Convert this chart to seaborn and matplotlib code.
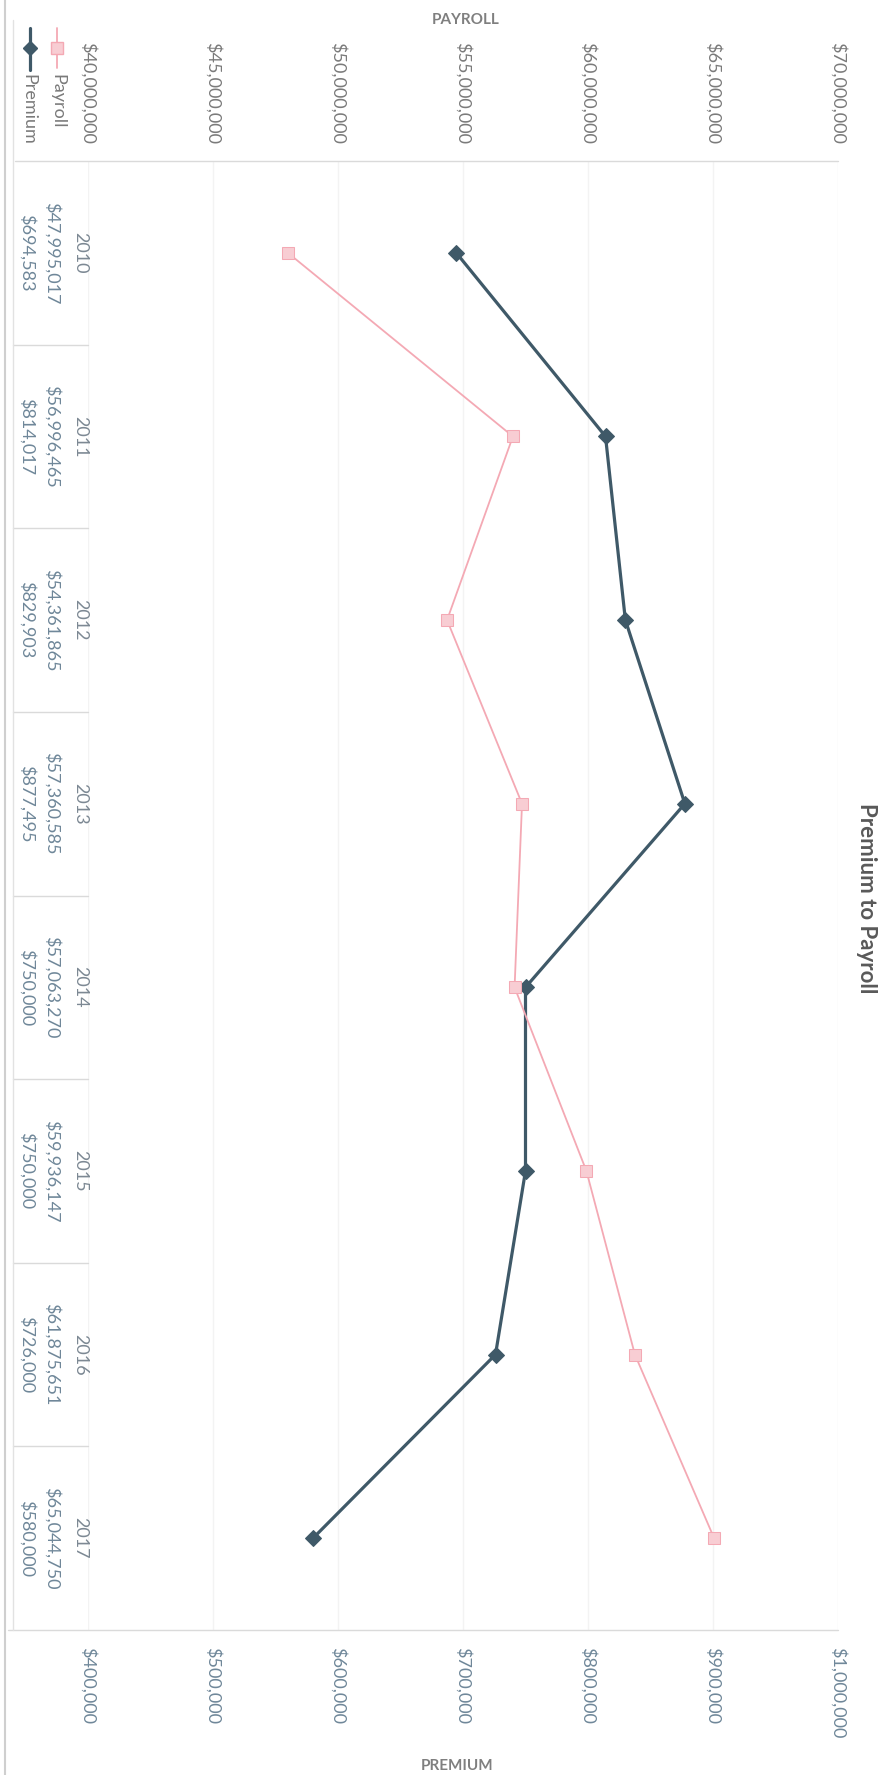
import pandas as pd
import matplotlib.pyplot as plt
import matplotlib.ticker as mticker
import matplotlib.transforms as mtrans
from matplotlib.lines import Line2D
import seaborn as sns

years = ['2010', '2011', '2012', '2013', '2014', '2015', '2016', '2017']
payroll = [47995017, 56996465, 54361865, 57360585, 57063270, 59936147, 61875651, 65044750]
premium = [694583, 814017, 829903, 877495, 750000, 750000, 726000, 580000]
payroll_labels = ['$47,995,017', '$56,996,465', '$54,361,865', '$57,360,585',
                  '$57,063,270', '$59,936,147', '$61,875,651', '$65,044,750']
premium_labels = ['$694,583', '$814,017', '$829,903', '$877,495',
                  '$750,000', '$750,000', '$726,000', '$580,000']

PINK = '#F4A9B4'
DARK = '#3F5968'
GRAY = '#7A7A7A'
BLUEGRAY = '#6F8799'
W, H = 885, 1775


def fx(px):
    return px / W


def fy(py):
    return 1 - py / H


def main():
    sns.set_style('white')
    plt.rcParams['font.family'] = ['Lato', 'DejaVu Sans']

    df = pd.DataFrame({'year': years, 'pos': range(len(years)),
                       'payroll': payroll, 'premium': premium})

    fig = plt.figure(figsize=(W / 100, H / 100), dpi=100)
    ax = fig.add_axes([fx(88), fy(1630), fx(750), 1469 / H])
    ax2 = ax.twiny()

    sns.lineplot(data=df, x='premium', y='pos', orient='y', sort=False, ax=ax,
                 color=DARK, linewidth=2.3, marker='D', markersize=8,
                 markeredgecolor=DARK, legend=False)
    sns.lineplot(data=df, x='payroll', y='pos', orient='y', sort=False, ax=ax2,
                 color=PINK, linewidth=1.3, marker='s', markersize=9,
                 markerfacecolor='#F8CDD3', markeredgecolor=PINK, legend=False)

    ax.set_xlim(400000, 1000000)
    ax2.set_xlim(40000000, 70000000)
    ax.set_ylim(len(years) - 0.5, -0.5)
    ax.set_xticks(range(400000, 1000001, 100000))
    ax2.set_xticks(range(40000000, 70000001, 5000000))
    ax.xaxis.set_major_formatter(mticker.StrMethodFormatter('${x:,.0f}'))
    ax2.xaxis.set_major_formatter(mticker.StrMethodFormatter('${x:,.0f}'))
    ax.set_yticks([])
    ax.set_xlabel('')
    ax.set_ylabel('')
    ax2.set_xlabel('')
    ax.tick_params(axis='x', labelrotation=-90, labelsize=13, labelcolor=BLUEGRAY,
                   length=0, pad=12)
    ax2.tick_params(axis='x', labelrotation=-90, labelsize=13, labelcolor=GRAY,
                    length=0, pad=12)
    ax.grid(axis='x', color='#F3F3F3', linewidth=1)
    for a in (ax, ax2):
        for side in ('left', 'right', 'top', 'bottom'):
            a.spines[side].set_visible(False)

    # data table on the left side
    blend = mtrans.blended_transform_factory(fig.transFigure, ax.transData)
    for i, yr in enumerate(years):
        fig.text(fx(80), i, yr, transform=blend, rotation=-90, ha='center',
                 va='center', fontsize=13, color='#7C8893')
        fig.text(fx(52), i, payroll_labels[i], transform=blend, rotation=-90,
                 ha='center', va='center', fontsize=13, color=BLUEGRAY)
        fig.text(fx(27), i, premium_labels[i], transform=blend, rotation=-90,
                 ha='center', va='center', fontsize=13, color=BLUEGRAY)
        if i > 0:
            fig.add_artist(Line2D([fx(13), fx(88)], [i - 0.5, i - 0.5],
                                  transform=blend, color='#DADADA', lw=1))

    # table / plot borders
    fig.add_artist(Line2D([fx(15), fx(838)], [fy(161), fy(161)], color='#DADADA', lw=1))
    fig.add_artist(Line2D([fx(8), fx(838)], [fy(1630), fy(1630)], color='#DADADA', lw=1))
    fig.add_artist(Line2D([fx(13), fx(13)], [fy(20), fy(1630)], color='#E2E2E2', lw=1))
    fig.add_artist(Line2D([fx(5), fx(5)], [0, 1], color='#CFCFCF', lw=1.5))

    # legend keys in the table header
    fig.add_artist(Line2D([fx(57), fx(57)], [fy(28), fy(68)], color=PINK, lw=1.3))
    fig.add_artist(Line2D([fx(57)], [fy(48)], marker='s', markersize=8,
                          markerfacecolor='#F8CDD3', markeredgecolor=PINK))
    fig.add_artist(Line2D([fx(30), fx(30)], [fy(28), fy(70)], color=DARK, lw=2.3))
    fig.add_artist(Line2D([fx(30)], [fy(48)], marker='D', markersize=7,
                          color=DARK))
    fig.text(fx(57), fy(74), 'Payroll', rotation=-90, ha='center', va='top',
             fontsize=13, color=GRAY)
    fig.text(fx(28), fy(74), 'Premium', rotation=-90, ha='center', va='top',
             fontsize=13, color=GRAY)

    fig.text(fx(866), fy(898), 'Premium to Payroll', rotation=-90, ha='center',
             va='center', fontsize=16, fontweight='bold', color='#595959')
    fig.text(fx(466), fy(20), 'PAYROLL', ha='center', va='center', fontsize=11,
             fontweight='bold', color='#7F7F7F')
    fig.text(fx(457), fy(1766), 'PREMIUM', ha='center', va='center', fontsize=11,
             fontweight='bold', color='#7F7F7F')

    fig.savefig('out.png', dpi=100)


if __name__ == "__main__":
    main()
